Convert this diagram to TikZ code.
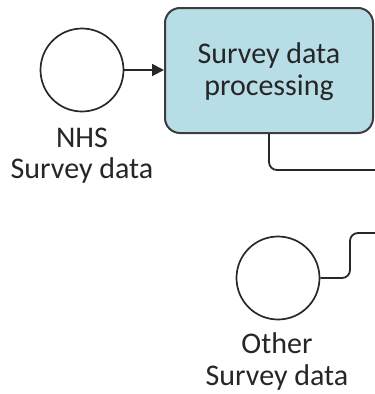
\documentclass[tikz,border=0pt]{standalone}
\usepackage{fontspec}
\setmainfont{Carlito}
\usetikzlibrary{arrows.meta}
\definecolor{boxfill}{RGB}{183,221,231}
\definecolor{linegray}{RGB}{40,40,40}
\begin{document}
\begin{tikzpicture}[x=1pt,y=-1pt,
  evt/.style={circle,draw=linegray,line width=1.7pt,minimum size=83pt,inner sep=0pt,fill=white},
  task/.style={draw=linegray!90,line width=2pt,fill=boxfill,rounded corners=15pt,minimum width=208pt,minimum height=125pt,inner sep=0pt},
  lbl/.style={font=\fontsize{30}{31.5}\selectfont,align=center,text=black!85,inner sep=0pt},
  conn/.style={draw=linegray,line width=1.8pt,rounded corners=8pt}]
\useasboundingbox (0,0) rectangle (375,394);
\node[evt] (nhs) at (82,70) {};
\node[task] (proc) at (269,70.5) {};
\node[lbl,anchor=base] (proctxt1) at (269,63) {Survey data};
\node[lbl,anchor=base] (proctxt2) at (269,95) {processing};
\node[lbl,anchor=base] (nhsl1) at (82,147) {NHS};
\node[lbl,anchor=base] (nhsl2) at (82,178) {Survey data};
\node[evt] (oth) at (278,278) {};
\node[lbl,anchor=base] (othl1) at (277,353) {Other};
\node[lbl,anchor=base] (othl2) at (277,385) {Survey data};
\coordinate (e1) at (376,170);
\coordinate (e2) at (376,233);
\draw[draw=linegray,line width=1.8pt,-{Triangle[length=12pt,width=12pt]}] (nhs.east) -- (proc.west |- nhs.east);
\draw[conn] (proc.south) |- (e1);
\draw[conn] (oth.east) -- (350,278) -- (350,233) -- (e2);
\end{tikzpicture}
\end{document}
